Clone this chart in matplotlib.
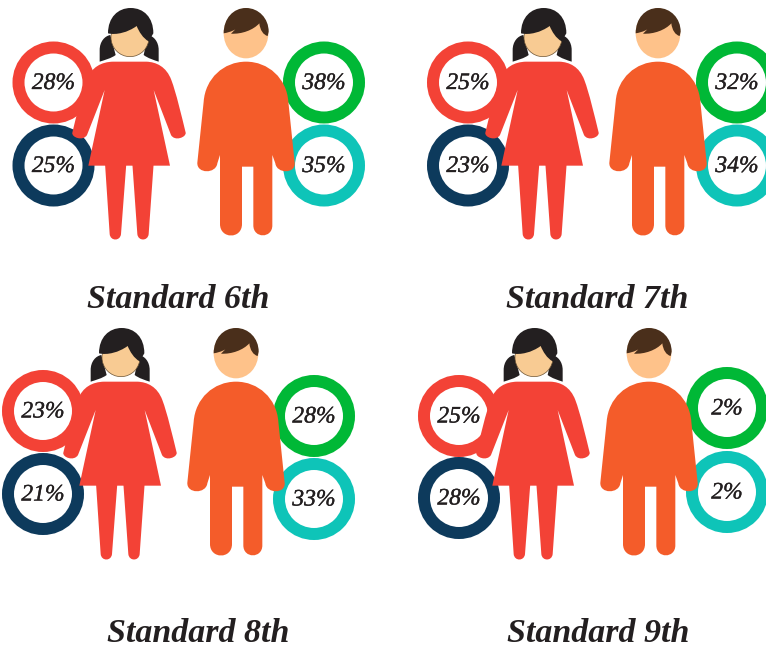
#!/usr/bin/env python3

"""Boys and girls percentages for standards 6 to 9, drawn as an infographic."""

import matplotlib
matplotlib.use("Agg")
import matplotlib.pyplot as plt
import matplotlib.patheffects as pe
from matplotlib.patches import Circle, Ellipse, PathPatch
from matplotlib.path import Path

standards = ["Standard 6th", "Standard 7th", "Standard 8th", "Standard 9th"]
girls_top = [28, 25, 23, 25]
girls_bottom = [25, 23, 21, 28]
boys_top = [38, 32, 28, 2]
boys_bottom = [35, 34, 33, 2]

# layout in pixels of the 766x648 picture
girl_x = [129, 542, 120, 533]
boy_x = [246, 658, 236, 649]
figure_y = [0, 0, 320, 320]
ring_left_x = [53.5, 468, 43, 459]
ring_right_x = [324, 737, 314, 727]
ring_left_y = [(82.5, 165.5), (82.5, 165.5), (411, 494), (416, 498)]
ring_right_y = [(82.5, 165.5), (82.5, 165.5), (416, 499), (408, 492)]
title_x = [178, 597, 198, 598]
title_y = [300, 300, 633, 633]

RED = "#F34236"
NAVY = "#0D3A5C"
GREEN = "#00B836"
TEAL = "#0EC4B8"
ORANGE = "#F45C2A"
INK = "#231F20"

M, L, C = Path.MOVETO, Path.LINETO, Path.CURVE4


def shape(ax, x0, y0, cx, parts, color, zorder=3):
    # parts use the 3x zoom coordinates of the first panel, cx is the figure's centre there
    verts, codes = [], []
    for code, pts in parts:
        for p in pts:
            verts.append((x0 + (p[0] - cx) / 3, y0 + p[1] / 3))
            codes.append(code)
    ax.add_patch(PathPatch(Path(verts, codes), fc=color, ec="none", zorder=zorder))


def girl(ax, x0, y0):
    cx = 388
    dress = [
        (M, [(340, 185)]), (L, [(440, 185)]),
        (C, [(470, 186), (500, 200), (515, 240)]),
        (C, [(530, 280), (545, 345), (558, 398)]),
        (C, [(560, 412), (525, 425), (514, 405)]),
        (L, [(462, 270)]), (L, [(511, 497)]), (L, [(266, 497)]), (L, [(315, 270)]),
        (L, [(262, 405)]),
        (C, [(250, 425), (215, 412), (218, 398)]),
        (C, [(231, 345), (246, 280), (261, 240)]),
        (C, [(276, 200), (306, 186), (340, 185)]),
    ]
    shape(ax, x0, y0, cx, dress, RED)
    left_leg = [
        (M, [(316, 490)]), (L, [(380, 490)]), (L, [(364, 702)]),
        (C, [(362, 724), (332, 724), (330, 702)]), (L, [(316, 490)]),
    ]
    right_leg = [
        (M, [(398, 490)]), (L, [(462, 490)]), (L, [(447, 702)]),
        (C, [(445, 724), (415, 724), (413, 702)]), (L, [(398, 490)]),
    ]
    shape(ax, x0, y0, cx, left_leg, RED)
    shape(ax, x0, y0, cx, right_leg, RED)
    pig_left = [
        (M, [(300, 185)]), (L, [(300, 150)]),
        (C, [(300, 125), (315, 108), (332, 105)]),
        (L, [(348, 165)]),
        (C, [(335, 175), (315, 180), (300, 185)]),
    ]
    pig_right = [
        (M, [(477, 185)]), (L, [(477, 150)]),
        (C, [(477, 125), (462, 108), (445, 105)]),
        (L, [(432, 165)]),
        (C, [(445, 175), (462, 180), (477, 185)]),
    ]
    shape(ax, x0, y0, cx, pig_left, INK, 4)
    shape(ax, x0, y0, cx, pig_right, INK, 4)
    ax.add_patch(Ellipse((x0 + 1, y0 + 112 / 3), 114 / 3, 116 / 3, fc="#F8CB93",
                         ec="#6B5233", lw=0.5, zorder=5))
    hair = [
        (M, [(325, 100)]),
        (C, [(325, 52), (355, 24), (393, 24)]),
        (C, [(432, 24), (461, 52), (461, 100)]),
        (L, [(447, 124)]),
        (C, [(430, 115), (418, 95), (411, 78)]),
        (C, [(385, 97), (350, 106), (325, 100)]),
    ]
    shape(ax, x0, y0, cx, hair, INK, 6)


def boy(ax, x0, y0):
    cx = 738
    body = [
        (M, [(738, 185)]),
        (C, [(805, 185), (860, 235), (865, 305)]),
        (L, [(884, 488)]),
        (C, [(888, 522), (830, 522), (826, 490)]),
        (L, [(817, 465)]), (L, [(817, 676)]),
        (C, [(817, 716), (760, 716), (760, 676)]),
        (L, [(760, 500)]), (L, [(726, 500)]), (L, [(726, 672)]),
        (C, [(726, 718), (660, 718), (660, 672)]),
        (L, [(660, 465)]), (L, [(652, 490)]),
        (C, [(648, 522), (590, 522), (592, 488)]),
        (L, [(611, 305)]),
        (C, [(616, 235), (671, 185), (738, 185)]),
    ]
    shape(ax, x0, y0, cx, body, ORANGE)
    ax.add_patch(Ellipse((x0, y0 + 100 / 3), 134 / 3, 150 / 3, fc="#FEC28A", ec="none", zorder=5))
    hair = [
        (M, [(671, 100)]),
        (C, [(671, 55), (700, 24), (738, 24)]),
        (C, [(776, 24), (806, 55), (806, 95)]),
        (L, [(803, 108)]),
        (C, [(790, 105), (780, 90), (778, 70)]),
        (C, [(760, 90), (725, 103), (693, 101)]),
        (L, [(706, 88)]),
        (C, [(695, 95), (682, 98), (671, 100)]),
    ]
    shape(ax, x0, y0, cx, hair, "#4A2F1B", 6)


def ring(ax, x, y, value, color):
    # outer radius 41 px, inner 29 px, drawn as a stroke on the middle radius
    ax.add_patch(Circle((x, y), 35, fc="white", ec=color, lw=12 * 0.72, zorder=2))
    ax.text(x, y + 1, f"{value}%", ha="center", va="center", fontsize=17, style="italic",
            color=INK, family=["Liberation Serif", "DejaVu Serif"], zorder=8,
            path_effects=[pe.withStroke(linewidth=0.25, foreground=INK)])


fig = plt.figure(figsize=(7.66, 6.48), dpi=100)
ax = fig.add_axes([0, 0, 1, 1])
ax.set_xlim(0, 766)
ax.set_ylim(648, 0)
ax.axis("off")

for i, name in enumerate(standards):
    ring(ax, ring_left_x[i], ring_left_y[i][0], girls_top[i], RED)
    ring(ax, ring_left_x[i], ring_left_y[i][1], girls_bottom[i], NAVY)
    ring(ax, ring_right_x[i], ring_right_y[i][0], boys_top[i], GREEN)
    ring(ax, ring_right_x[i], ring_right_y[i][1], boys_bottom[i], TEAL)
    girl(ax, girl_x[i], figure_y[i])
    boy(ax, boy_x[i], figure_y[i])
    ax.text(title_x[i], title_y[i], name, ha="center", va="center", fontsize=24.5,
            style="italic", weight="bold", color=INK,
            family=["Liberation Serif", "DejaVu Serif"])

fig.savefig("out.png", dpi=100)
